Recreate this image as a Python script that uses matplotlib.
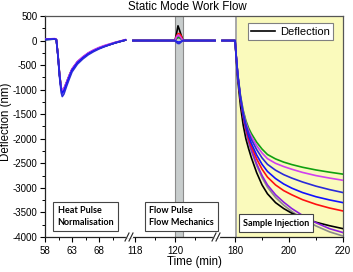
import numpy as np
import matplotlib
matplotlib.use("Agg")
import matplotlib.pyplot as plt
from matplotlib.ticker import FixedLocator, NullFormatter

# ---------------- data ----------------
# Segment 1: heat pulse (time in min)
t_heat = [58, 59, 59.8, 60.1, 60.4, 60.7, 61.0, 61.2, 61.5, 62.0, 62.5, 63, 64, 65, 66, 67, 68, 69, 70, 71, 72, 72.9]
heat_black = [25, 30, 35, 20, -300, -700, -980, -1050, -1000, -860, -720, -590, -440, -345, -265, -205, -155, -115, -80, -45, -15, 10]
heat_grey = [25, 30, 35, 20, -300, -705, -985, -1055, -1005, -862, -722, -592, -441, -346, -266, -206, -156, -116, -81, -46, -16, 10]
heat_purple = [25, 30, 35, 20, -305, -710, -990, -1060, -1010, -865, -725, -595, -443, -347, -267, -207, -157, -116, -81, -45, -15, 12]
heat_red = [25, 28, 32, 18, -295, -695, -970, -1045, -995, -855, -715, -588, -438, -342, -262, -202, -152, -112, -78, -42, -14, 10]
heat_green = [20, 25, 30, 15, -290, -690, -960, -1030, -985, -850, -710, -585, -435, -338, -258, -198, -150, -110, -75, -40, -12, 12]
heat_magenta = [30, 35, 40, 25, -280, -680, -950, -1020, -975, -840, -700, -575, -425, -330, -250, -190, -140, -100, -68, -35, -8, 20]
heat_blue2 = [22, 27, 32, 17, -305, -715, -1000, -1070, -1020, -875, -735, -600, -450, -352, -270, -210, -160, -118, -82, -46, -16, 10]
heat_blue = [20, 25, 30, 15, -320, -750, -1060, -1140, -1090, -930, -780, -640, -480, -375, -290, -225, -170, -125, -85, -48, -18, 10]

# Segment 2: flow pulse
t_flow = [117.9, 118.5, 119.0, 119.5, 120.0, 120.08, 120.15, 120.22, 120.3, 120.4, 120.5, 121.0, 121.5, 122.0]
flow_black = [0, 0, 0, 0, 0, 150, 300, 220, 120, 0, 0, 0, 0, 0]
flow_grey = [0, 0, 0, 0, 0, 60, 90, 80, 50, 0, 0, 0, 0, 0]
flow_purple = [0, 0, 0, 0, 0, 40, 70, 60, 30, 0, 0, 0, 0, 0]
flow_red = [0, 0, 0, 0, 0, 100, 140, 140, 100, 0, 0, 0, 0, 0]
flow_green = [0, 0, 0, 0, 0, 50, 60, 60, 40, 0, 0, 0, 0, 0]
flow_magenta = [0, 0, 0, 0, 0, 80, 110, 100, 60, 0, 0, 0, 0, 0]
flow_blue2 = [0, 0, 0, 0, 0, -20, -30, -30, -20, 0, 0, 0, 0, 0]
flow_blue = [0, 0, 0, 0, 0, -40, -60, -60, -30, 0, 0, 0, 0, 0]

# Segment 3: sample injection
t_inj = [175.2, 177, 179, 180, 180.4, 181, 182, 183, 184, 185, 186, 188, 190, 192, 195, 198, 201, 205, 210, 215, 220]
inj_black = [0, 0, 0, 0, -350, -800, -1330, -1720, -2000, -2200, -2380, -2690, -2940, -3120, -3300, -3420, -3515, -3610, -3700, -3770, -3830]
inj_grey = [0, 0, 0, 0, -310, -715, -1200, -1560, -1835, -2060, -2245, -2545, -2790, -2985, -3195, -3350, -3480, -3625, -3775, -3895, -3980]
inj_purple = [0, 0, 0, 0, -310, -715, -1195, -1550, -1820, -2040, -2220, -2510, -2750, -2940, -3140, -3290, -3420, -3560, -3710, -3830, -3910]
inj_red = [0, 0, 0, 0, -310, -710, -1185, -1530, -1785, -1990, -2150, -2410, -2620, -2780, -2940, -3055, -3140, -3240, -3335, -3410, -3470]
inj_green = [0, 0, 0, 0, -300, -680, -1120, -1420, -1630, -1780, -1890, -2070, -2210, -2320, -2410, -2475, -2525, -2580, -2635, -2680, -2720]
inj_magenta = [0, 0, 0, 0, -300, -690, -1140, -1450, -1670, -1830, -1950, -2140, -2290, -2405, -2500, -2565, -2620, -2685, -2750, -2800, -2845]
inj_blue2 = [0, 0, 0, 0, -305, -705, -1175, -1510, -1750, -1940, -2090, -2330, -2520, -2665, -2810, -2920, -3005, -3095, -3180, -3245, -3300]
inj_blue = [0, 0, 0, 0, -305, -700, -1160, -1480, -1710, -1880, -2010, -2220, -2390, -2520, -2640, -2730, -2800, -2880, -2965, -3035, -3095]

x_ticks = [58, 63, 68, 118, 120, 180, 200, 220]
x_minor = [60.5, 65.5, 70.5, 119, 121, 190, 210]
y_ticks = [500, 0, -500, -1000, -1500, -2000, -2500, -3000, -3500, -4000]

# broken axis segments (time ranges) and their share of the axis width
seg_t = [58, 73.74, 117.75, 122.1, 173.3, 220]
seg_u = [0, 85, 85.0001, 172, 172.0001, 298]

def fwd(t):
    return np.interp(t, seg_t, seg_u)

def inv(u):
    return np.interp(u, seg_u, seg_t)

# ---------------- figure ----------------
plt.rcParams['font.family'] = ['Liberation Sans', 'DejaVu Sans']
fig = plt.figure(figsize=(3.53, 2.72), dpi=100)
W, H = 353, 272
ax = fig.add_axes([45 / W, 1 - 237 / H, 298 / W, 221 / H])
ax.set_xscale('function', functions=(fwd, inv))

# shaded regions
ax.axvspan(120.0, 120.4, facecolor='#c8cdcd', edgecolor='#8c8c8c', lw=0.8, zorder=0)
ax.axvspan(179.9, 180.8, facecolor='#a9a9a9', edgecolor='none', zorder=0)
ax.axvspan(180.8, 220, facecolor='#fafabc', edgecolor='none', zorder=0)

colors = {
    'grey': '#8a8a8a', 'black': '#000000', 'purple': '#8a1ee0', 'red': '#ff1010',
    'green': '#10a010', 'magenta': '#d040f0', 'blue2': '#1010ff', 'blue': '#2a2ad8',
}
segments = [
    (t_heat, {'grey': heat_grey, 'black': heat_black, 'purple': heat_purple, 'red': heat_red,
              'green': heat_green, 'magenta': heat_magenta, 'blue2': heat_blue2, 'blue': heat_blue}),
    (t_flow, {'grey': flow_grey, 'black': flow_black, 'purple': flow_purple, 'red': flow_red,
              'green': flow_green, 'magenta': flow_magenta, 'blue2': flow_blue2, 'blue': flow_blue}),
    (t_inj, {'grey': inj_grey, 'black': inj_black, 'purple': inj_purple, 'red': inj_red,
             'green': inj_green, 'magenta': inj_magenta, 'blue2': inj_blue2, 'blue': inj_blue}),
]
legend_handle = None
for t, series in segments:
    for name, vals in series.items():
        ln, = ax.plot(t, vals, color=colors[name], lw=1.2, zorder=3)
        if name == 'black' and legend_handle is None:
            legend_handle = ln

ax.set_xlim(58, 220)
ax.set_ylim(-4000, 500)
ax.xaxis.set_major_locator(FixedLocator(x_ticks))
ax.xaxis.set_minor_locator(FixedLocator(x_minor))
ax.set_xticklabels([str(v) for v in x_ticks])
ax.xaxis.set_minor_formatter(NullFormatter())
ax.set_yticks(y_ticks)
ax.set_yticklabels([str(v) for v in y_ticks])
ax.yaxis.set_minor_locator(FixedLocator(np.arange(-4000, 501, 250)))
ax.tick_params(axis='both', which='major', direction='out', length=3.5, width=0.8,
               labelsize=7, pad=2)
ax.tick_params(axis='both', which='minor', direction='out', length=2, width=0.7)
ax.tick_params(axis='x', which='major', pad=3)
for sp in ax.spines.values():
    sp.set_linewidth(0.9)
    sp.set_color('#222222')
ax.spines['top'].set_color('#555555')
ax.spines['right'].set_color('#555555')

# break marks on the bottom axis
px_x, px_y = 1 / 298, 1 / 221
for xb in (85 / 298, 172 / 298):
    ax.plot([xb - 3 * px_x, xb + 2 * px_x], [0, 0], transform=ax.transAxes,
            color='white', lw=1.6, clip_on=False, zorder=5)
    for off in (-3, 1):
        ax.plot([xb + (off - 2) * px_x, xb + (off + 2) * px_x], [-4 * px_y, 4 * px_y],
                transform=ax.transAxes, color='#222222', lw=0.8, clip_on=False, zorder=6)

# text boxes
box_font = dict(family=['Lato', 'DejaVu Sans'], weight='bold', size=6.5)
bbox = dict(boxstyle='square,pad=0.45', fc='white', ec='#444444', lw=0.8)
ax.text((57.5 - 45) / 298, (237 - 227) / 221, 'Heat Pulse\nNormalisation', transform=ax.transAxes,
        ha='left', va='bottom', linespacing=1.4, bbox=bbox, zorder=7, **box_font)
ax.text((149 - 45) / 298, (237 - 227) / 221, 'Flow Pulse\nFlow Mechanics', transform=ax.transAxes,
        ha='left', va='bottom', linespacing=1.4, bbox=bbox, zorder=7, **box_font)
ax.text((243 - 45) / 298, (237 - 227.5) / 221, 'Sample Injection', transform=ax.transAxes,
        ha='left', va='bottom', bbox=bbox, zorder=7, **box_font)

leg = ax.legend([legend_handle], ['Deflection'], loc='upper right',
                bbox_to_anchor=((333 - 45) / 298, (237 - 23.5) / 221), borderaxespad=0,
                fontsize=8, handlelength=2.2, handletextpad=0.4, borderpad=0.3,
                fancybox=False, framealpha=1, edgecolor='#808080')
leg.get_frame().set_linewidth(0.8)
leg.set_zorder(8)

fig.text(187.5 / W, 1 - 7 / H, 'Static Mode Work Flow', ha='center', va='center', fontsize=8.3)
fig.text(6.5 / W, 1 - 121.5 / H, 'Deflection (nm)', rotation=90, ha='center', va='center', fontsize=8.3)
fig.text(194.5 / W, 1 - 261.7 / H, 'Time (min)', ha='center', va='center', fontsize=8.3)

fig.savefig('out.png', dpi=100)
